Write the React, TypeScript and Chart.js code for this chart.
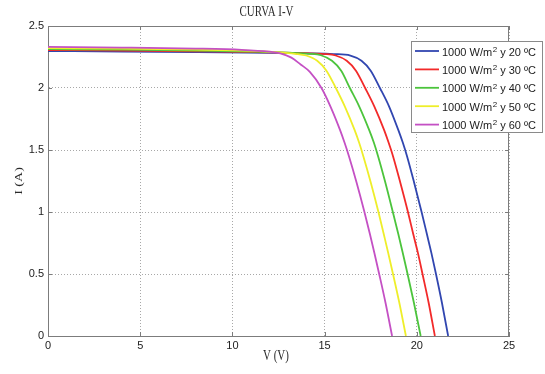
import React, { useEffect, useRef } from 'react';
import { Chart, registerables } from 'chart.js';

Chart.register(...registerables);

// ---- text ----
const chartTitle = 'CURVA I-V';
const xAxisTitle = 'V (V)';
const yAxisTitle = 'I (A)';
const xTickLabels = ['0', '5', '10', '15', '20', '25'];
const yTickLabels = ['0', '0.5', '1', '1.5', '2', '2.5'];
const seriesLabels = [
  '1000 W/m² y 20 ºC',
  '1000 W/m² y 30 ºC',
  '1000 W/m² y 40 ºC',
  '1000 W/m² y 50 ºC',
  '1000 W/m² y 60 ºC',
];
const seriesColors = ['#3146b0', '#f22a2a', '#4cc43c', '#eeee2a', '#c450c4'];

// ---- data: voltage (V) and current (A) ----
const v20 = [0, 4, 8, 12, 14, 15.5, 16.4, 17.0, 17.5, 18.0, 18.5, 19.0, 19.24, 19.47, 19.85, 20.26, 20.55, 20.79, 21.04, 21.36, 21.7];
const i20 = [2.298, 2.294, 2.289, 2.283, 2.279, 2.274, 2.262, 2.22, 2.14, 2.0, 1.85, 1.66, 1.56, 1.45, 1.24, 1.0, 0.82, 0.67, 0.5, 0.27, 0];

const v30 = [0, 4, 8, 12, 14, 15.0, 15.6, 16.2, 16.7, 17.2, 17.7, 18.23, 18.47, 18.71, 19.1, 19.52, 19.81, 20.06, 20.31, 20.64, 20.98];
const i30 = [2.306, 2.302, 2.296, 2.288, 2.281, 2.274, 2.262, 2.22, 2.14, 2.0, 1.85, 1.66, 1.56, 1.45, 1.24, 1.0, 0.82, 0.67, 0.5, 0.27, 0];

const v40 = [0, 4, 8, 11, 13, 14.2, 14.8, 15.4, 15.9, 16.37, 16.88, 17.42, 17.67, 17.9, 18.29, 18.7, 19.0, 19.24, 19.5, 19.84, 20.21];
const i40 = [2.314, 2.309, 2.302, 2.294, 2.285, 2.276, 2.264, 2.22, 2.14, 2.0, 1.85, 1.66, 1.56, 1.45, 1.24, 1.0, 0.82, 0.67, 0.5, 0.27, 0];

const v50 = [0, 4, 8, 11, 12.5, 13.4, 14.0, 14.6, 15.1, 15.61, 16.1, 16.63, 16.87, 17.1, 17.5, 17.92, 18.21, 18.45, 18.71, 19.05, 19.41];
const i50 = [2.322, 2.317, 2.309, 2.299, 2.288, 2.276, 2.262, 2.22, 2.14, 2.0, 1.85, 1.66, 1.56, 1.45, 1.24, 1.0, 0.82, 0.67, 0.5, 0.27, 0];

const v60 = [0, 4, 8, 10.5, 12.0, 12.6, 13.2, 13.7, 14.2, 14.83, 15.32, 15.84, 16.08, 16.32, 16.73, 17.16, 17.46, 17.7, 17.96, 18.3, 18.66];
const i60 = [2.331, 2.326, 2.318, 2.308, 2.293, 2.28, 2.245, 2.19, 2.13, 2.0, 1.85, 1.66, 1.56, 1.45, 1.24, 1.0, 0.82, 0.67, 0.5, 0.27, 0];

const voltages = [v20, v30, v40, v50, v60];
const currents = [i20, i30, i40, i50, i60];

const SANS = '"Liberation Sans", Arial, sans-serif';
const SERIF = '"Liberation Serif", "Times New Roman", serif';
const AXIS_COLOR = '#7c7c7c';

const decorPlugin = {
  id: 'decor',
  afterDraw(chart: any) {
    const { ctx, chartArea: a, scales } = chart;
    ctx.save();

    // top & right border
    ctx.strokeStyle = AXIS_COLOR;
    ctx.lineWidth = 1;
    ctx.setLineDash([]);
    ctx.beginPath();
    ctx.moveTo(a.left, Math.round(a.top) + 0.5);
    ctx.lineTo(a.right, Math.round(a.top) + 0.5);
    ctx.moveTo(Math.round(a.right) - 0.5, a.top);
    ctx.lineTo(Math.round(a.right) - 0.5, a.bottom);
    ctx.stroke();

    // inward tick marks
    const tl = 4;
    ctx.beginPath();
    scales.x.ticks.forEach((t: any) => {
      const px = Math.round(scales.x.getPixelForValue(t.value)) + 0.5;
      ctx.moveTo(px, a.bottom);
      ctx.lineTo(px, a.bottom - tl);
      ctx.moveTo(px, a.top);
      ctx.lineTo(px, a.top + tl);
    });
    scales.y.ticks.forEach((t: any) => {
      const py = Math.round(scales.y.getPixelForValue(t.value)) + 0.5;
      ctx.moveTo(a.left, py);
      ctx.lineTo(a.left + tl, py);
      ctx.moveTo(a.right, py);
      ctx.lineTo(a.right - tl, py);
    });
    ctx.stroke();

    // titles (serif, horizontally condensed like the source)
    ctx.fillStyle = '#2a2a2a';
    ctx.font = `14px ${SERIF}`;
    ctx.textAlign = 'center';
    ctx.textBaseline = 'middle';
    const cx = (a.left + a.right) / 2;
    const sq = 0.78;
    const drawSquished = (text: string, x: number, y: number) => {
      ctx.save();
      ctx.translate(x, y);
      ctx.scale(sq, 1);
      ctx.fillText(text, 0, 0);
      ctx.restore();
    };
    drawSquished(chartTitle, cx - 12, 12);
    drawSquished(xAxisTitle, cx - 2.5, 356);
    ctx.save();
    ctx.translate(19, (a.top + a.bottom) / 2);
    ctx.scale(sq, 1);
    ctx.rotate(-Math.PI / 2);
    ctx.fillText(yAxisTitle, 0, 0);
    ctx.restore();

    // legend
    const lx = Math.round(a.right) - 98;
    const ly = Math.round(a.top) + 15;
    const lw = 131;
    const lh = 91;
    ctx.fillStyle = '#ffffff';
    ctx.fillRect(lx, ly, lw, lh);
    ctx.strokeStyle = '#8a8a8a';
    ctx.lineWidth = 1;
    ctx.strokeRect(lx + 0.5, ly + 0.5, lw, lh);
    ctx.textAlign = 'left';
    seriesLabels.forEach((label, k) => {
      const y = ly + 10 + k * 18.4;
      ctx.strokeStyle = seriesColors[k];
      ctx.lineWidth = 1.8;
      ctx.beginPath();
      ctx.moveTo(lx + 4, y);
      ctx.lineTo(lx + 28, y);
      ctx.stroke();
      const [pre, post] = label.split('²');
      let x = lx + 31;
      ctx.fillStyle = '#1a1a1a';
      ctx.font = `11px ${SANS}`;
      ctx.fillText(pre, x, y + 1.5);
      x += ctx.measureText(pre).width + 0.5;
      ctx.font = `8px ${SANS}`;
      ctx.fillText('2', x, y - 1.5);
      x += ctx.measureText('2').width;
      ctx.font = `11px ${SANS}`;
      ctx.fillText(post, x, y + 1.5);
    });

    ctx.restore();
  },
};

export default function App() {
  const ref = useRef<HTMLCanvasElement | null>(null);

  useEffect(() => {
    if (!ref.current) return;
    const datasets = voltages.map((vs, k) => ({
      label: seriesLabels[k],
      data: vs.map((v, j) => ({ x: v, y: currents[k][j] })),
      borderColor: seriesColors[k],
      backgroundColor: seriesColors[k],
      borderWidth: 1.8,
      pointRadius: 0,
      fill: false,
      cubicInterpolationMode: 'monotone' as const,
      order: voltages.length - 1 - k,
    }));

    const chart = new Chart(ref.current, {
      type: 'line',
      data: { datasets },
      options: {
        responsive: false,
        animation: false,
        devicePixelRatio: 1,
        layout: { padding: { left: 0, right: 36, top: 26, bottom: 0 } },
        plugins: {
          legend: { display: false },
          tooltip: { enabled: false },
          title: { display: false },
        },
        scales: {
          x: {
            type: 'linear',
            min: 0,
            max: 25,
            afterBuildTicks: (s: any) => {
              s.ticks = xTickLabels.map((l) => ({ value: Number(l) }));
            },
            ticks: {
              callback: (_v: any, i: number) => xTickLabels[i],
              font: { family: SANS, size: 11 },
              color: '#222',
              padding: 3,
              maxRotation: 0,
              autoSkip: false,
            },
            grid: { color: '#a8a8a8', lineWidth: 1, drawTicks: false },
            border: { display: true, color: AXIS_COLOR, width: 1, dash: [1, 2] },
            afterFit: (s: any) => {
              s.height = 38;
            },
          },
          y: {
            type: 'linear',
            min: 0,
            max: 2.5,
            afterBuildTicks: (s: any) => {
              s.ticks = yTickLabels.map((l) => ({ value: Number(l) }));
            },
            ticks: {
              callback: (_v: any, i: number) => yTickLabels[i],
              font: { family: SANS, size: 11 },
              color: '#222',
              padding: 4,
              autoSkip: false,
            },
            grid: { color: '#a8a8a8', lineWidth: 1, drawTicks: false },
            border: { display: true, color: AXIS_COLOR, width: 1, dash: [1, 2] },
            afterFit: (s: any) => {
              s.width = 48;
            },
          },
        },
      },
      plugins: [decorPlugin],
    });
    return () => chart.destroy();
  }, []);

  return (
    <div style={{ position: 'absolute', left: 0, top: 0, width: 545, height: 374, background: '#fff' }}>
      <canvas ref={ref} width={545} height={374} style={{ display: 'block' }} />
    </div>
  );
}
